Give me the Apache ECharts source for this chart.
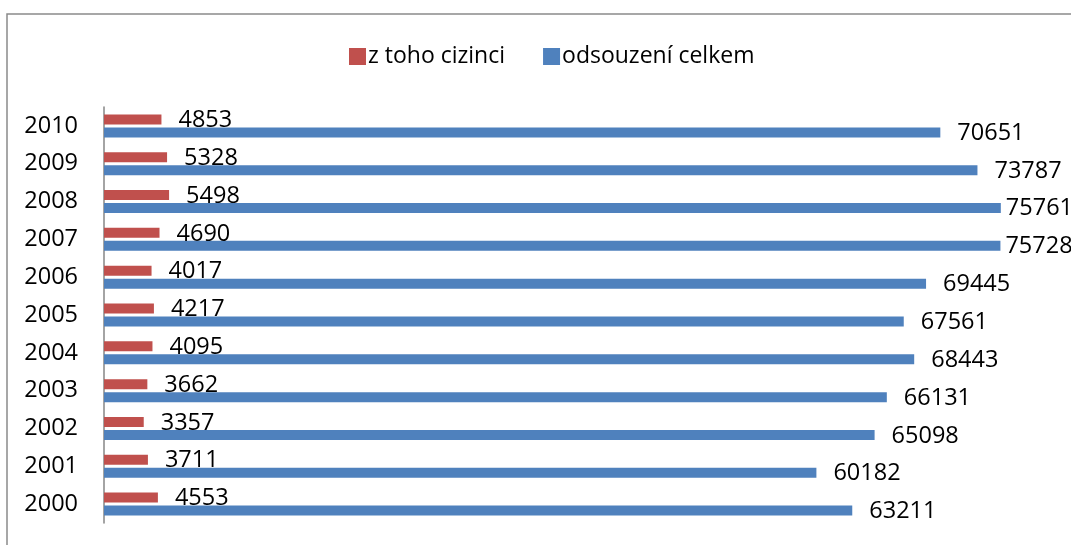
<!DOCTYPE html>
<title>odsouzeni</title>
<style>
body {margin: 0; background: #fff;}
#echart {height: 545px; width: 1071px;}
</style>
<div id='echart'></div>
<script src='https://cdn.jsdelivr.net/npm/echarts@6.0.0/dist/echarts.min.js'></script>
<script>
let years = ['2000', '2001', '2002', '2003', '2004', '2005', '2006', '2007', '2008', '2009', '2010']
let cizinci = [4553, 3711, 3357, 3662, 4095, 4217, 4017, 4690, 5498, 5328, 4853]
let celkem = [63211, 60182, 65098, 66131, 68443, 67561, 69445, 75728, 75761, 73787, 70651]

let font = "'Open Sans', sans-serif"
let label = {show: true, position: 'right', distance: 17, offset: [0, 1], color: '#000', fontSize: 23.5, fontFamily: font}

// labels that would run off the right edge sit closer to their bar
let celkemData = celkem.map(v => v > 75000 ? {value: v, label: {distance: 5, offset: [0, 0]}} : v)

let echart = echarts.init(document.querySelector('#echart'))
let option = {
	animation: false,
	graphic: [
		{type: 'rect', shape: {x: 7, y: 14, width: 1200, height: 700}, style: {fill: 'none', stroke: '#8a8a8a', lineWidth: 1.5}, silent: true},
	],
	legend: {
		top: 40, left: 344, itemWidth: 17, itemHeight: 17, itemGap: 38,
		icon: 'rect',
		textStyle: {fontSize: 23, fontFamily: font, color: '#000', padding: [0, 0, 0, -3]},
	},
	grid: {left: 104, right: 20, top: 107, bottom: 22},
	xAxis: {type: 'value', min: 0, max: 80000, show: false},
	yAxis: {
		type: 'category', data: years,
		axisLine: {lineStyle: {color: '#868686', width: 1.5}},
		axisTick: {show: false},
		axisLabel: {fontSize: 23.5, fontFamily: font, color: '#000', margin: 26},
	},
	series: [
		{type: 'bar', name: 'z toho cizinci', data: cizinci, barWidth: 10, barGap: '30%', itemStyle: {color: '#C0504D'}, label: label},
		{type: 'bar', name: 'odsouzení celkem', data: celkemData, barWidth: 10, barGap: '30%', itemStyle: {color: '#4F81BD'}, label: label},
	],
}

echart.setOption(option)
</script>
